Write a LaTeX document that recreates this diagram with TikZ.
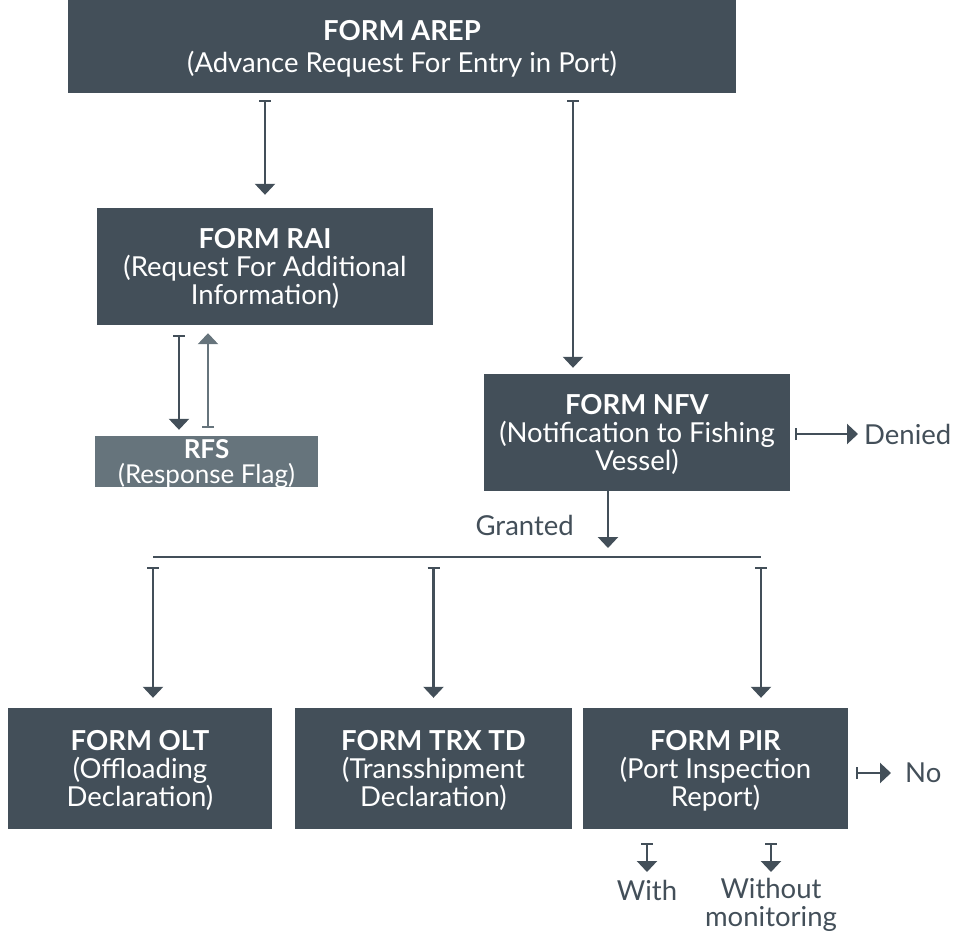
\documentclass[tikz,border=0pt]{standalone}
\usepackage{fontspec}
\setmainfont{Lato}
\usetikzlibrary{arrows.meta}
\definecolor{slate}{HTML}{434F59}
\definecolor{lightslate}{HTML}{66747C}
\begin{document}
\begin{tikzpicture}[x=1pt,y=-1pt,
    form/.style={fill=slate,text=white,align=center,inner sep=0pt,text depth=-10pt,
      font=\fontsize{27.5}{28}\selectfont},
    note/.style={text=slate,align=center,inner sep=0pt,
      font=\fontsize{27.5}{28}\selectfont},
    flow/.style={draw=slate,line width=2.4pt,
      {Bar[width=12pt,line width=2pt]}-{Triangle[width=20pt,length=11pt]}},
    back/.style={flow,draw=lightslate}]
  \useasboundingbox (0,0) rectangle (954,935);
  \node[form, minimum width=668pt, minimum height=93pt, font=\fontsize{27.5}{32}\selectfont] (arep) at (402,46.5)
    {\textbf{FORM AREP}\\(Advance Request For Entry in Port)};
  \node[form, minimum width=336pt, minimum height=117pt] (rai) at (265,266.5)
    {\textbf{FORM RAI}\\(Request For Additional\\Information)};
  \node[form, fill=lightslate, minimum width=223pt, minimum height=51pt, text depth=-2pt, font=\fontsize{26}{25}\selectfont] (rfs) at (206.5,461.5)
    {\textbf{RFS}\\(Response Flag)};
  \node[form, minimum width=306pt, minimum height=117pt] (nfv) at (637,432.5)
    {\textbf{FORM NFV}\\(Notification to Fishing\\Vessel)};
  \node[form, minimum width=264pt, minimum height=121pt] (olt) at (140,768.5)
    {\textbf{FORM OLT}\\(Offloading\\Declaration)};
  \node[form, minimum width=277pt, minimum height=121pt] (trx) at (433.5,768.5)
    {\textbf{FORM TRX TD}\\(Transshipment\\Declaration)};
  \node[form, minimum width=265pt, minimum height=121pt] (pir) at (715.5,768.5)
    {\textbf{FORM PIR}\\(Port Inspection\\Report)};
  \node[note, anchor=west] (denied) at (864,434) {Denied};
  \node[note, anchor=east] (granted) at (574,525) {Granted};
  \node[note, anchor=west] (no) at (905,773) {No};
  \node[note, anchor=north] (with) at (647,880) {With};
  \node[note, anchor=north] (without) at (771,878) {Without\\monitoring};
  \coordinate (busL) at (153,557);
  \coordinate (busR) at (761,557);

  \draw[flow, shorten <=7pt, shorten >=13pt] (arep.south -| rai.north) -- (rai.north);
  \draw[flow, shorten <=7pt, shorten >=6pt] ([xshift=-64pt]nfv.north |- arep.south) -- ([xshift=-64pt]nfv.north);
  \draw[flow, shorten <=10pt, shorten >=6pt] ([xshift=-86pt]rai.south) -- ([xshift=-86pt]rai.south |- rfs.north);
  \draw[back, shorten <=8pt, shorten >=8pt] ([xshift=1.5pt]rfs.north) -- ([xshift=1.5pt]rfs.north |- rai.south);
  \draw[flow, shorten <=5pt, shorten >=6pt] (nfv.east |- denied.west) -- (denied.west);
  \draw[flow, -{Triangle[width=20pt,length=11pt]}, shorten >=9pt] ([xshift=-29pt]nfv.south) -- ([xshift=-29pt]nfv.south |- busR);
  \draw[slate, line width=2.4pt] (busL) -- (busR);
  \draw[flow, shorten <=10pt, shorten >=10pt] (busL) -- (busL |- olt.north);
  \draw[flow, shorten <=10pt, shorten >=10pt] (busL -| trx.north) -- (trx.north);
  \draw[flow, shorten <=10pt, shorten >=10pt] (busR) -- (busR |- pir.north);
  \draw[flow, shorten <=8pt, shorten >=14pt] (pir.east |- no.west) -- (no.west);
  \draw[flow, shorten <=14pt, shorten >=8pt] (pir.south -| with.north) -- (with.north);
  \draw[flow, shorten <=14pt, shorten >=6pt] (pir.south -| without.north) -- (without.north);
\end{tikzpicture}
\end{document}
